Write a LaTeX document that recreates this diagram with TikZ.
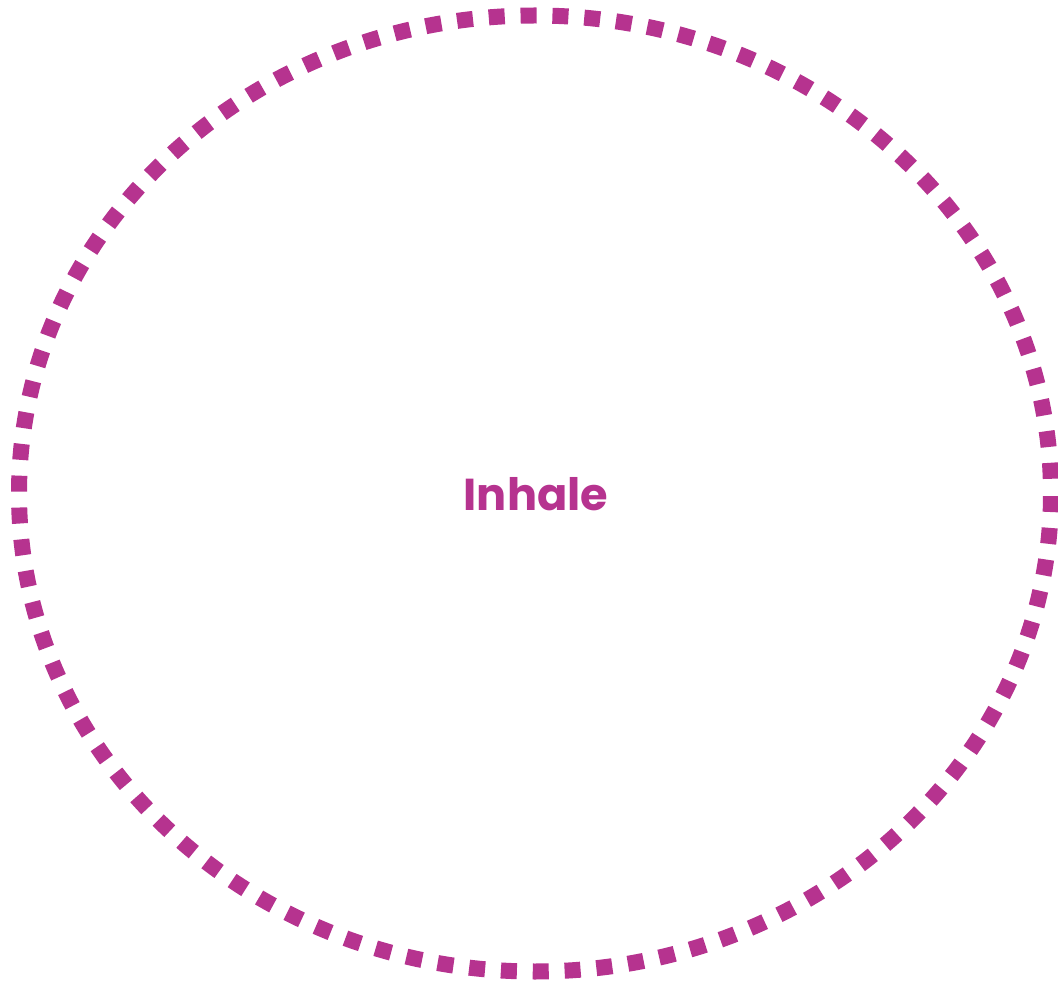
\documentclass[tikz,border=0pt]{standalone}
\usepackage{fontspec}
\setmainfont{Poppins}
\definecolor{c1}{HTML}{B6338F}

\begin{document}
\begin{tikzpicture}[
    x=0.75pt, y=-0.75pt,
    every node/.style={font=\fontsize{33.5}{38}\selectfont\bfseries},
    ring/.style={draw=c1, line width=12pt,
                 dash pattern=on 12pt off 11.9pt, dash phase=22pt},
    word/.style={text=c1, inner sep=0pt},
]
\useasboundingbox (0,0) rectangle (1058,984);

% dashed outline
\draw[ring] (535,493.5) ellipse [x radius=516, y radius=478];

\node[word] (inhale) at (536,494) {Inhale};
\end{tikzpicture}
\end{document}
